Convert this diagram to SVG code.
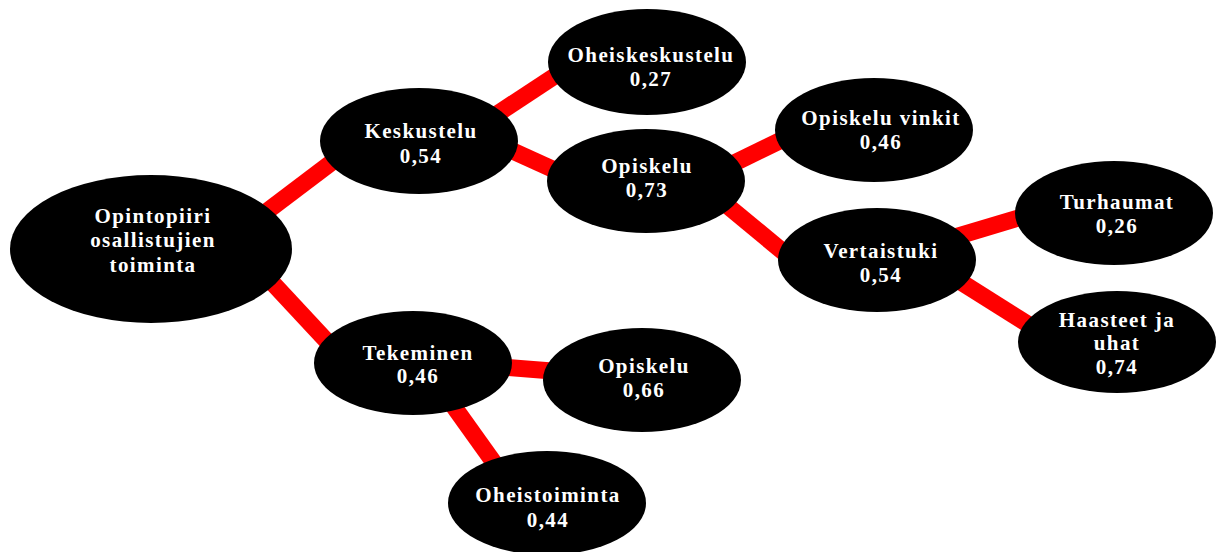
<svg xmlns="http://www.w3.org/2000/svg" width="1218" height="552" viewBox="0 0 1218 552">
<style>
.n{fill:#000}
.e{stroke:#f00;stroke-width:17;fill:none;stroke-linecap:butt}
text{font-family:"Liberation Serif","Times New Roman",serif;font-weight:bold;font-size:21px;fill:#fff;text-anchor:middle;letter-spacing:1.4px}
</style>
<rect width="1218" height="552" fill="#fff"/>
<g id="connectors">
<line class="e" x1="245" y1="228" x2="352" y2="147"/>
<line class="e" x1="255" y1="264" x2="335" y2="350"/>
<line class="e" x1="488" y1="120" x2="570" y2="66"/>
<line class="e" x1="495" y1="143" x2="570" y2="177"/>
<line class="e" x1="720" y1="170" x2="800" y2="131"/>
<line class="e" x1="712" y1="193" x2="805" y2="270"/>
<line class="e" x1="945" y1="240" x2="1035" y2="213"/>
<line class="e" x1="945" y1="272" x2="1045" y2="335"/>
<line class="e" x1="490" y1="366" x2="565" y2="372"/>
<line class="e" x1="442" y1="390" x2="505" y2="478"/>
</g>
<g id="n-opintopiiri"><ellipse class="n" cx="151" cy="249" rx="141" ry="74"/>
<text x="153" y="223">Opintopiiri</text><text x="153" y="247">osallistujien</text><text x="153" y="272">toiminta</text></g>
<g id="n-keskustelu"><ellipse class="n" cx="419" cy="141" rx="99" ry="53"/>
<text x="421" y="138">Keskustelu</text><text x="421" y="163">0,54</text></g>
<g id="n-oheiskeskustelu"><ellipse class="n" cx="647" cy="62" rx="99" ry="53"/>
<text x="651" y="62">Oheiskeskustelu</text><text x="651" y="86">0,27</text></g>
<g id="n-opiskelu73"><ellipse class="n" cx="646" cy="181" rx="99" ry="52"/>
<text x="647" y="173">Opiskelu</text><text x="647" y="197">0,73</text></g>
<g id="n-opiskeluvinkit"><ellipse class="n" cx="874" cy="130" rx="99" ry="52"/>
<text x="881" y="125">Opiskelu vinkit</text><text x="881" y="149">0,46</text></g>
<g id="n-vertaistuki"><ellipse class="n" cx="877" cy="260" rx="99" ry="52"/>
<text x="881" y="258">Vertaistuki</text><text x="881" y="282">0,54</text></g>
<g id="n-turhaumat"><ellipse class="n" cx="1114" cy="213" rx="99" ry="52"/>
<text x="1117" y="209">Turhaumat</text><text x="1117" y="233">0,26</text></g>
<g id="n-haasteet"><ellipse class="n" cx="1117" cy="342" rx="99" ry="51"/>
<text x="1117" y="327">Haasteet ja</text><text x="1117" y="350">uhat</text><text x="1117" y="374">0,74</text></g>
<g id="n-tekeminen"><ellipse class="n" cx="413" cy="363" rx="99" ry="52"/>
<text x="418" y="360">Tekeminen</text><text x="418" y="383">0,46</text></g>
<g id="n-opiskelu66"><ellipse class="n" cx="642" cy="380" rx="99" ry="52"/>
<text x="644" y="373">Opiskelu</text><text x="644" y="397">0,66</text></g>
<g id="n-oheistoiminta"><ellipse class="n" cx="547" cy="503" rx="99" ry="52"/>
<text x="548" y="502">Oheistoiminta</text><text x="548" y="527">0,44</text></g>
</svg>
